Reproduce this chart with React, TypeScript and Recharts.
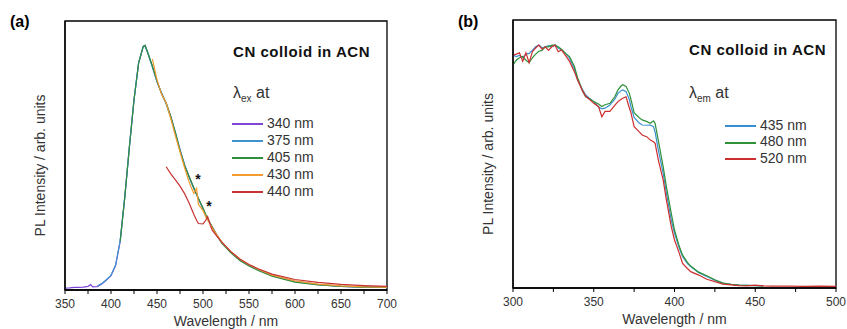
import React from 'react';
import { LineChart, Line, XAxis, YAxis, ReferenceArea, ReferenceDot, Legend } from 'recharts';

const FONT = '"Liberation Sans", Arial, Helvetica, sans-serif';

// ---------- Panel (a): PL emission spectra ----------
const wavelengthA = [350, 355, 360, 365, 370, 375, 378, 380, 385, 390, 395, 400, 405, 410, 415, 420, 425, 430, 435, 437, 440, 445, 450, 455, 460, 465, 470, 475, 480, 485, 490, 493, 495, 500, 503, 505, 508, 510, 515, 520, 530, 540, 550, 560, 575, 600, 625, 650, 675, 700];
const xTicksA = [350, 375, 400, 425, 450, 475, 500, 525, 550, 575, 600, 625, 650, 675, 700];

const ex340 = [0.008, 0.009, 0.011, 0.011, 0.012, 0.015, 0.022, 0.013, 0.014, 0.025, 0.041, 0.059, 0.10, 0.20, 0.38, 0.585, 0.777, 0.928, 0.995, 1.0, 0.969, 0.914, 0.852, 0.804, 0.763, 0.709, 0.64, 0.572, 0.51, 0.462, 0.415, 0.39, 0.373, 0.332, 0.305, 0.291, 0.27, 0.257, 0.225, 0.196, 0.155, 0.123, 0.10, 0.082, 0.059, 0.034, 0.022, 0.015, 0.012, 0.011];
const ex375Start = 385;
const ex375 = [0.016, 0.026, 0.042, 0.06, 0.102, 0.202, 0.382, 0.587, 0.778, 0.929, 0.996, 1.0, 0.97, 0.912, 0.85, 0.806, 0.76, 0.705, 0.645, 0.575, 0.512, 0.46, 0.417, 0.392, 0.372, 0.334, 0.307, 0.29, 0.272, 0.258, 0.226, 0.197, 0.156, 0.124, 0.101, 0.083, 0.06, 0.035, 0.023, 0.016, 0.012, 0.011];
const ex405Start = 410;
const ex405 = [0.20, 0.38, 0.585, 0.777, 0.928, 0.995, 1.0, 0.97, 0.916, 0.855, 0.802, 0.765, 0.71, 0.642, 0.57, 0.508, 0.463, 0.418, 0.392, 0.375, 0.335, 0.308, 0.293, 0.271, 0.258, 0.224, 0.194, 0.153, 0.121, 0.098, 0.08, 0.057, 0.032, 0.021, 0.015, 0.012, 0.011];
const ex430Start = 445;
const ex430 = [0.944, 0.86, 0.80, 0.765, 0.70, 0.63, 0.565, 0.50, 0.44, 0.395, 0.415, 0.35, 0.325, 0.30, 0.285, 0.27, 0.255, 0.226, 0.198, 0.158, 0.127, 0.103, 0.085, 0.061, 0.037, 0.024, 0.017, 0.013, 0.012];
const ex440Start = 460;
const ex440 = [0.504, 0.475, 0.45, 0.425, 0.394, 0.355, 0.31, 0.285, 0.272, 0.27, 0.285, 0.30, 0.265, 0.245, 0.22, 0.198, 0.158, 0.127, 0.104, 0.087, 0.065, 0.043, 0.031, 0.023, 0.018, 0.015];
const starMarks = [{ w: 494.6, v: 0.453 }, { w: 506.6, v: 0.345 }];

// ---------- Panel (b): PL excitation spectra ----------
const wavelengthB = [300, 302, 304, 306, 308, 310, 312, 314, 316, 318, 320, 322, 324, 326, 328, 330, 333, 335, 338, 340, 343, 345, 348, 350, 353, 355, 357, 360, 363, 365, 367, 368, 370, 372, 373, 375, 378, 380, 383, 385, 387, 388, 390, 393, 395, 398, 400, 403, 405, 408, 410, 415, 420, 425, 430, 435, 440, 445, 450, 455, 460, 470, 480, 490, 500];
const xTicksB = [300, 325, 350, 375, 400, 425, 450, 475, 500];

const em435 = [0.956, 0.95, 0.955, 0.945, 0.96, 0.963, 0.975, 0.99, 0.997, 0.985, 0.99, 0.995, 0.99, 0.997, 0.985, 0.977,
  0.96, 0.943, 0.90, 0.854, 0.815, 0.792, 0.775, 0.765,
  0.744, 0.735, 0.738, 0.751, 0.775, 0.799, 0.81, 0.813, 0.806, 0.775, 0.745, 0.70, 0.678, 0.669, 0.668, 0.669, 0.662, 0.64, 0.566,
  0.47, 0.389, 0.279, 0.224, 0.163, 0.129, 0.10, 0.088,
  0.063, 0.047, 0.032, 0.02, 0.015, 0.012, 0.011, 0.0096, 0.009];
const em480 = [0.915, 0.935, 0.945, 0.95, 0.935, 0.925, 0.945, 0.96, 0.972, 0.975, 0.99, 0.99, 0.997, 0.997, 0.99, 0.98,
  0.96, 0.95, 0.91, 0.863, 0.81, 0.785, 0.775, 0.765,
  0.755, 0.745, 0.752, 0.758, 0.785, 0.813, 0.83, 0.834, 0.827, 0.80, 0.775, 0.72, 0.70, 0.69, 0.683, 0.676, 0.686, 0.675, 0.605,
  0.497, 0.415, 0.306, 0.238, 0.17, 0.135, 0.105, 0.09,
  0.065, 0.05, 0.034, 0.02, 0.015, 0.012, 0.011, 0.0096, 0.009];
const em520 = [0.956, 0.96, 0.965, 0.93, 0.965, 0.925, 0.97, 0.985, 0.997, 0.98, 0.99, 0.975, 0.99, 0.997, 0.97, 0.977,
  0.95, 0.93, 0.888, 0.854, 0.81, 0.787, 0.77, 0.758,
  0.744, 0.703, 0.725, 0.725, 0.75, 0.765, 0.775, 0.779, 0.785, 0.74, 0.72, 0.662, 0.642, 0.628, 0.62, 0.607, 0.60, 0.594, 0.525,
  0.443, 0.361, 0.252, 0.197, 0.142, 0.101, 0.08, 0.067,
  0.053, 0.036, 0.026, 0.016, 0.013, 0.0096, 0.009, 0.012, 0.009,
  0.008, 0.008, 0.007, 0.008, 0.007];

// ---------- build tables ----------
function align(grid: number[], start: number, vals: number[]) {
  const i0 = grid.indexOf(start);
  return grid.map((_, i) => (i >= i0 && i - i0 < vals.length ? vals[i - i0] : null));
}

const dataA = (() => {
  const s375 = align(wavelengthA, ex375Start, ex375);
  const s405 = align(wavelengthA, ex405Start, ex405);
  const s430 = align(wavelengthA, ex430Start, ex430);
  const s440 = align(wavelengthA, ex440Start, ex440);
  return wavelengthA.map((w, i) => ({ w, a340: ex340[i], a375: s375[i], a405: s405[i], a430: s430[i], a440: s440[i] }));
})();

const dataB = (() => {
  const s435 = align(wavelengthB, 300, em435);
  const s480 = align(wavelengthB, 300, em480);
  const s520 = align(wavelengthB, 300, em520);
  return wavelengthB.map((w, i) => ({ w, b435: s435[i], b480: s480[i], b520: s520[i] }));
})();

const seriesA = [
  { key: 'a340', name: '340 nm', color: '#7d45d8' },
  { key: 'a375', name: '375 nm', color: '#3f93cf' },
  { key: 'a405', name: '405 nm', color: '#2f8f3c' },
  { key: 'a430', name: '430 nm', color: '#f29b2f' },
  { key: 'a440', name: '440 nm', color: '#c83232' },
];
const seriesB = [
  { key: 'b435', name: '435 nm', color: '#3a8fd0' },
  { key: 'b480', name: '480 nm', color: '#2f9139' },
  { key: 'b520', name: '520 nm', color: '#cc2f2f' },
];

// ---------- helpers ----------
function XTitle(props: any) {
  const vb = props.viewBox || {};
  return (
    <text x={vb.x + vb.width / 2} y={vb.y + 36} textAnchor="middle" fontSize={14} fill="#333" fontFamily={FONT}>
      {props.value}
    </text>
  );
}

function YTitle(props: any) {
  const vb = props.viewBox || {};
  const cx = vb.x + vb.width - 25;
  const cy = vb.y + vb.height / 2 + 10;
  return (
    <text x={cx} y={cy} transform={`rotate(-90, ${cx}, ${cy})`} textAnchor="middle" dominantBaseline="central" fontSize={14} fill="#333" fontFamily={FONT}>
      {props.value}
    </text>
  );
}

function LegendBox(props: any) {
  const { payload = [], series = [], sub, lambdaGap, rowsGap, rowH, linePad, lineW } = props;
  const colorOf = (p: any) => {
    const s = series.find((x: any) => x.name === p.value || x.key === p.dataKey);
    return s ? s.color : p.color;
  };
  return (
    <div style={{ fontFamily: FONT, color: '#333', textAlign: 'left' }}>
      <div style={{ fontWeight: 'bold', fontSize: 15, letterSpacing: 0.55, lineHeight: '20px', height: 20, color: '#111', paddingLeft: 1, whiteSpace: 'nowrap' }}>
        CN colloid in ACN
      </div>
      <div style={{ marginTop: lambdaGap, fontSize: 16, lineHeight: '20px', height: 20, paddingLeft: 1, whiteSpace: 'nowrap' }}>
        λ<sub style={{ fontSize: 10, verticalAlign: 'sub', lineHeight: 0 }}>{sub}</sub> at
      </div>
      <div style={{ marginTop: rowsGap }}>
        {payload.map((p: any) => (
          <div key={p.value} style={{ height: rowH, lineHeight: `${rowH}px`, fontSize: 14, whiteSpace: 'nowrap', paddingLeft: linePad }}>
            <span style={{ display: 'inline-block', width: lineW, height: 2, background: colorOf(p), verticalAlign: 'middle', marginRight: 4 }} />
            {p.value}
          </div>
        ))}
      </div>
    </div>
  );
}

const tickStyle = { fontSize: 12, fill: '#333', fontFamily: FONT };
const axisLine = { stroke: '#000', strokeWidth: 1.3 };

export default function App() {
  return (
    <div style={{ position: 'absolute', left: 0, top: 0, width: 847, height: 329, background: '#fff', fontFamily: FONT }}>
      <div style={{ position: 'absolute', left: 10, top: 12, fontWeight: 'bold', fontSize: 16, lineHeight: '20px' }}>(a)</div>
      <div style={{ position: 'absolute', left: 458, top: 12, fontWeight: 'bold', fontSize: 16, lineHeight: '20px' }}>(b)</div>

      <div style={{ position: 'absolute', left: 0, top: 0 }}>
        <LineChart width={420} height={329} data={dataA} margin={{ top: 21, right: 33, bottom: 0, left: 0 }}>
          <ReferenceArea x1={350} x2={700} y1={0} y2={1.1} fill="none" fillOpacity={0} stroke="#000" strokeWidth={1.3} />
          <XAxis dataKey="w" type="number" domain={[350, 700]} ticks={xTicksA} interval={0} allowDataOverflow
            tickFormatter={(v: number) => (v % 50 === 0 ? String(v) : '')}
            height={39} tickSize={4} tickMargin={5} tick={tickStyle} axisLine={axisLine} tickLine={{ stroke: '#000' }}
            label={<XTitle value="Wavelength / nm" />} />
          <YAxis type="number" domain={[0, 1.1]} width={65} tick={false} tickLine={false} axisLine={axisLine}
            label={<YTitle value="PL Intensity / arb. units" />} />
          <Legend layout="vertical" align="center" verticalAlign="middle"
            wrapperStyle={{ left: 232, top: 42, width: 180 }}
            content={(p: any) => <LegendBox {...p} series={seriesA} sub="ex" lambdaGap={21} rowsGap={11.8} rowH={17.1} linePad={-2} lineW={31} />} />
          {seriesA.map((s) => (
            <Line key={s.key} dataKey={s.key} name={s.name} stroke={s.color} strokeWidth={1.2} dot={false}
              isAnimationActive={false} connectNulls={false} />
          ))}
          {starMarks.map((m, i) => (
            <ReferenceDot key={i} x={m.w} y={m.v} r={0} fill="none" stroke="none"
              label={{ value: '*', position: 'center', fontSize: 14, fontWeight: 'bold', fill: '#111', fontFamily: FONT }} />
          ))}
        </LineChart>
      </div>

      <div style={{ position: 'absolute', left: 420, top: 0 }}>
        <LineChart width={427} height={329} data={dataB} margin={{ top: 20, right: 11, bottom: 0, left: 0 }}>
          <ReferenceArea x1={300} x2={500} y1={0} y2={1.1} fill="none" fillOpacity={0} stroke="#000" strokeWidth={1.3} />
          <XAxis dataKey="w" type="number" domain={[300, 500]} ticks={xTicksB} interval={0} allowDataOverflow
            tickFormatter={(v: number) => (v % 50 === 0 ? String(v) : '')}
            height={41} tickSize={4} tickMargin={5} tick={tickStyle} axisLine={axisLine} tickLine={{ stroke: '#000' }}
            label={<XTitle value="Wavelength / nm" />} />
          <YAxis type="number" domain={[0, 1.1]} width={93} tick={false} tickLine={false} axisLine={axisLine}
            label={<YTitle value="PL Intensity / arb. units" />} />
          <Legend layout="vertical" align="center" verticalAlign="middle"
            wrapperStyle={{ left: 268, top: 40, width: 150 }}
            content={(p: any) => <LegendBox {...p} series={seriesB} sub="em" lambdaGap={23.3} rowsGap={13.3} rowH={16.7} linePad={37} lineW={31} />} />
          {seriesB.map((s) => (
            <Line key={s.key} dataKey={s.key} name={s.name} stroke={s.color} strokeWidth={1.2} dot={false}
              isAnimationActive={false} connectNulls={false} />
          ))}
        </LineChart>
      </div>
    </div>
  );
}
